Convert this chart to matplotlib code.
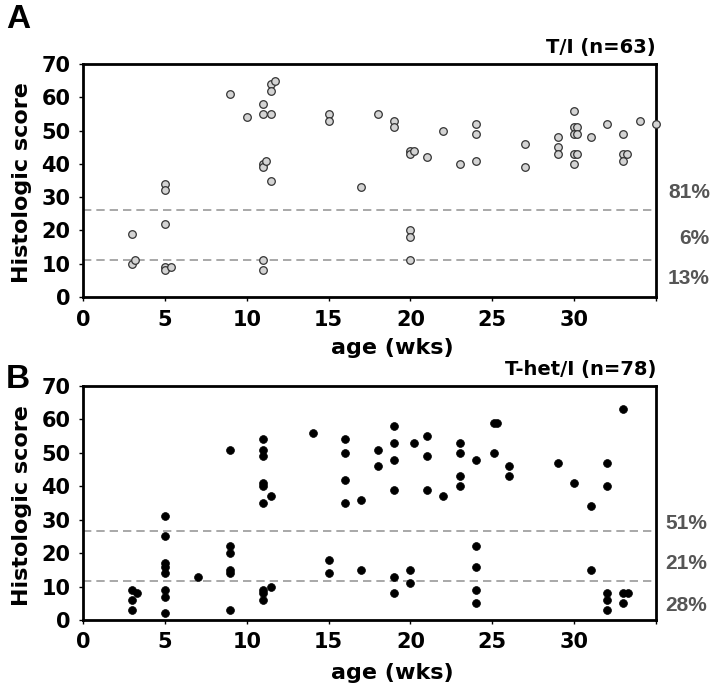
import matplotlib
matplotlib.use("Agg")
import matplotlib.pyplot as plt
import matplotlib.transforms as mtransforms

plt.rcParams['font.family'] = ['Liberation Sans', 'DejaVu Sans']
plt.rcParams['font.weight'] = 'bold'

# Panel A: T/I
a_age = [3.0, 3.0, 3.2, 5.0, 5.0, 5.0, 5.0, 5.0, 5.4, 9.0, 10.0, 11.0, 11.0, 11.5,
         11.5, 11.7, 11.5, 11.0, 11.0, 11.2, 11.5, 11.0, 11.0,
         15.0, 15.0, 17.0, 18.0, 19.0, 19.0, 20.0, 20.0, 20.2, 21.0, 22.0, 23.0,
         24.0, 24.0, 24.0, 20.0, 20.0, 20.0,
         27.0, 27.0, 29.0, 29.0, 29.0, 30.0, 30.0, 30.2, 30.0, 30.2, 30.0, 30.2,
         30.0, 31.0, 32.0, 33.0, 33.0, 33.2, 33.0, 34.0, 35.0]
a_score = [19, 10, 11, 34, 32, 22, 9, 8, 9, 61, 54, 58, 55, 55,
           64, 65, 62, 40, 39, 41, 35, 11, 8,
           55, 53, 33, 55, 53, 51, 44, 43, 44, 42, 50, 40,
           52, 49, 41, 20, 18, 11,
           46, 39, 48, 45, 43, 56, 51, 51, 49, 49, 43, 43,
           40, 48, 52, 49, 43, 43, 41, 53, 52]

# Panel B: T-het/I
b_age = [3.0, 3.3, 3.0, 3.0, 5.0, 5.0, 5.0, 5.0, 5.0, 5.0, 5.0, 5.0, 7.05,
         9.0, 9.0, 9.0, 9.0, 9.0, 9.0, 11.0, 11.0, 11.0, 11.0, 11.0, 11.0, 11.5,
         11.0, 11.0, 11.0, 11.5,
         14.05, 16.0, 16.0, 16.0, 16.0, 17.0, 18.0, 18.0, 19.0, 19.0, 19.0, 19.0,
         20.2, 21.0, 21.0, 21.0, 22.0, 23.0, 23.0, 23.0, 23.0, 24.0,
         15.0, 15.0, 17.0, 19.0, 19.0, 20.0, 20.0, 24.0, 24.0, 24.0, 24.0,
         25.1, 25.3, 25.1, 26.0, 26.0, 29.0, 30.0, 31.0, 32.0, 32.0, 33.0,
         31.0, 32.0, 32.0, 32.0, 33.0, 33.3, 33.0]
b_score = [9, 8, 6, 3, 31, 25, 17, 16, 14, 9, 7, 2, 13,
           51, 22, 20, 15, 14, 3, 54, 51, 49, 41, 40, 35, 37,
           9, 8, 6, 10,
           56, 54, 50, 42, 35, 36, 51, 46, 58, 53, 48, 39,
           53, 55, 49, 39, 37, 53, 50, 43, 40, 48,
           18, 14, 15, 13, 8, 15, 11, 22, 16, 9, 5,
           59, 59, 50, 46, 43, 47, 41, 34, 47, 40, 63,
           15, 8, 6, 3, 8, 8, 5]

a_cuts = [26, 11]
b_cuts = [26.7, 11.8]
a_pct = ['81%', '6%', '13%']
a_pct_y = [31.3, 17.5, 5.5]
b_pct = ['51%', '21%', '28%']
b_pct_y = [29, 16.8, 4.3]

xticks = [0, 5, 10, 15, 20, 25, 30, 35]
xticklabels = ['0', '5', '10', '15', '20', '25', '30', '']
yticks = [0, 10, 20, 30, 40, 50, 60, 70]

fig = plt.figure(figsize=(7.18, 6.93), dpi=100)
W, H = 718, 693
axA = fig.add_axes([83 / W, 1 - 297 / H, 573 / W, 233 / H])
axB = fig.add_axes([83 / W, 1 - 620 / H, 573 / W, 234 / H])

FS = 15
WIDE = ['DejaVu Sans']


def style(ax, title, xlab_y):
    ax.set_xlim(0, 35)
    ax.set_ylim(0, 70)
    ax.set_xticks(xticks)
    ax.set_xticklabels(xticklabels)
    ax.set_yticks(yticks)
    ax.tick_params(axis='both', labelsize=FS, length=3, width=1, direction='out', pad=6)
    for lbl in ax.get_xticklabels() + ax.get_yticklabels():
        lbl.set_fontweight('bold')
        lbl.set_family(WIDE)
    for s in ax.spines.values():
        s.set_linewidth(2)
        s.set_color('black')
    ax.set_xlabel('age (wks)', fontsize=16, fontweight='bold', family=WIDE)
    ax.xaxis.set_label_coords(0.54, xlab_y, transform=ax.transAxes)
    ax.xaxis.label.set_va('top')
    ax.set_ylabel('Histologic score', fontsize=16, fontweight='bold', family=WIDE)
    ax.yaxis.set_label_coords(-0.1065, 0.49, transform=ax.transAxes)
    ax.yaxis.label.set_va('center')
    ax.set_title(title, loc='right', fontsize=14, fontweight='bold', family=WIDE, pad=8)


style(axA, 'T/I (n=63)', -0.178)
style(axB, 'T-het/I (n=78)', -0.185)

for c in a_cuts:
    axA.axhline(c, color='#999999', lw=1.2, ls=(0, (5, 3)), zorder=1)
for c in b_cuts:
    axB.axhline(c, color='#999999', lw=1.2, ls=(0, (5, 3)), zorder=1)

axA.scatter(a_age, a_score, s=30, facecolor='#d4d4d4', edgecolor='#333333',
            linewidth=0.9, zorder=3, clip_on=False)
axB.scatter(b_age, b_score, s=32, facecolor='black', edgecolor='black',
            linewidth=0.5, zorder=3, clip_on=False)

trA = mtransforms.blended_transform_factory(axA.transAxes, axA.transData)
for t, y in zip(a_pct, a_pct_y):
    axA.text(1.094, y, t, transform=trA, ha='right', va='center', fontsize=FS,
             fontweight='bold', color='#555555')
trB = mtransforms.blended_transform_factory(axB.transAxes, axB.transData)
for t, y in zip(b_pct, b_pct_y):
    axB.text(1.016, y, t, transform=trB, ha='left', va='center', fontsize=FS,
             fontweight='bold', color='#555555')

fig.text(6 / W, 1 - 20 / H, 'A', fontsize=24, fontweight='bold', va='center', ha='left')
fig.text(6 / W, 1 - 380 / H, 'B', fontsize=24, fontweight='bold', va='center', ha='left')

fig.savefig('out.png', dpi=100)
